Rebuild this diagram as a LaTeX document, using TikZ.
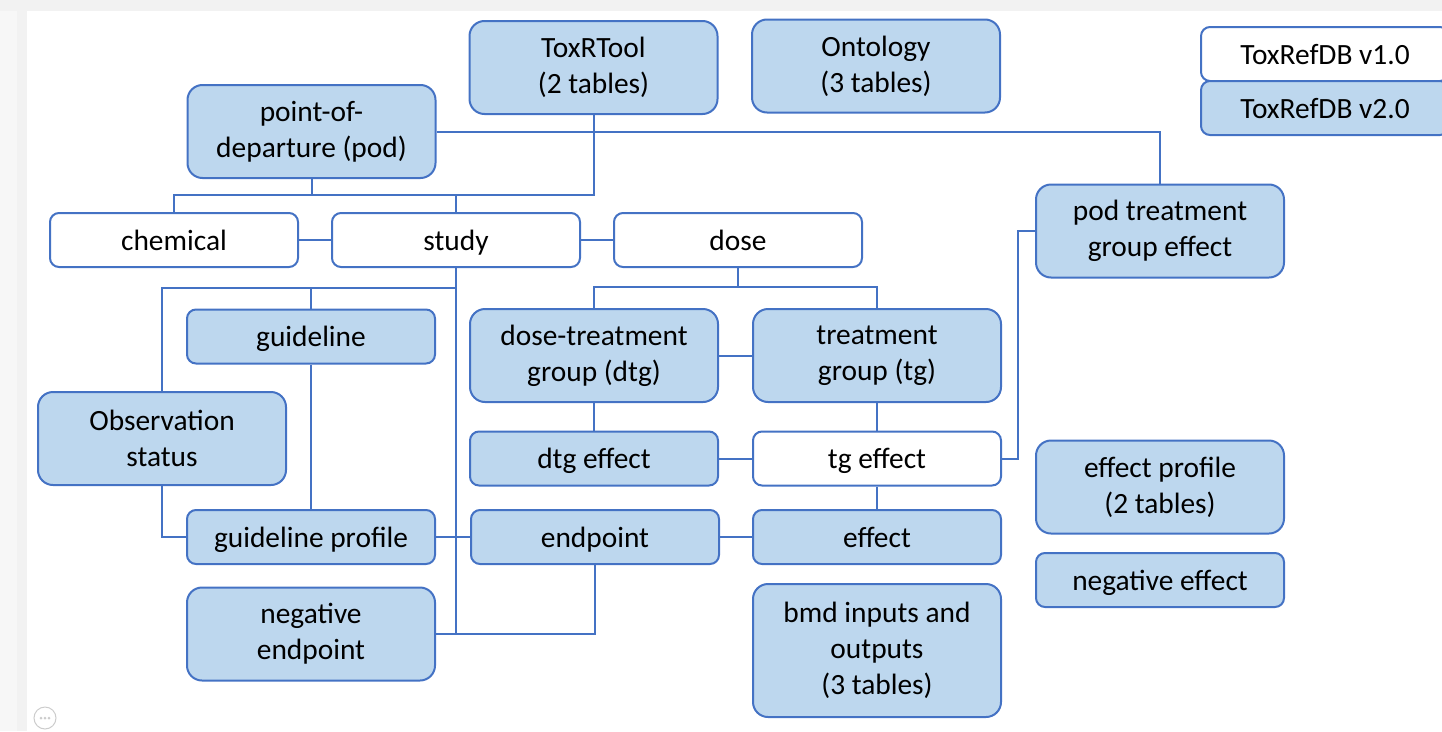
\documentclass[tikz,border=0pt]{standalone}
\usepackage{fontspec}
\setmainfont{Carlito}
\usepackage{tikz}
\usetikzlibrary{arrows, backgrounds}
\usepackage{xcolor}
\definecolor{boxBlue}{HTML}{BDD7EE}
\definecolor{lineBlue}{HTML}{4472C4}
\tikzset{>=latex}
\tikzset{
  tableNode/.style={shape=rectangle, draw=lineBlue, fill=boxBlue, line width=2pt, rounded corners=9pt, align=center, minimum width=248pt, minimum height=54pt, inner sep=0pt, text height=24pt, text depth=4pt, font=\fontsize{29.4}{36}\selectfont},
  tableNodeWHITE/.style={tableNode, fill=white},
  tallNode/.style={minimum height=93pt, rounded corners=15pt, text height={}, text depth={}},
  relLink/.style={draw=lineBlue, -, line width=2pt},
  frameBand/.style={draw=none, fill=black!5}
}
\begin{document}
\begin{tikzpicture}[x=1pt, y=-1pt]
        \useasboundingbox (0,0) rectangle (1442,731);
        % window frame of the screenshot
        \fill[black!3] (0,0) rectangle (27,731);
        \path[frameBand] (17,11) rectangle (27,731);
        \path[frameBand] (0,0) rectangle (1442,11);
        \draw[black!20, line width=1pt] (45,718) circle[radius=11pt];
        \foreach \dx in {-4,0,4} \fill[black!20] (45+\dx,718) circle[radius=1.5pt];

        \node (pod) [tableNode, tallNode] at (311.5,131.5) {point-of-\\departure (pod)};
        \node (toxr) [tableNode, tallNode] at (593.5,67.5) {ToxRTool\\(2 tables)};
        \node (onto) [tableNode, tallNode] at (876,66) {Ontology\\(3 tables)};
        \node (vOne) [tableNodeWHITE] at (1325,54) {ToxRefDB v1.0};
        \node (vTwo) [tableNode] at (1325,108) {ToxRefDB v2.0};
        \node (ptge) [tableNode, tallNode] at (1160,231) {pod treatment\\group effect};

        \node (chem) [tableNodeWHITE] at (174,240) {chemical};
        \node (study) [tableNodeWHITE] at (456,240) {study};
        \node (dose) [tableNodeWHITE] at (738,240) {dose};

        \node (guide) [tableNode] at (311,336.5) {guideline};
        \node (obs) [tableNode, tallNode] at (162,438.5) {Observation\\status};
        \node (gprof) [tableNode] at (311,537) {guideline profile};
        \node (negend) [tableNode, tallNode] at (311,634) {negative\\endpoint};

        \node (dtg) [tableNode, tallNode] at (594,355.5) {dose-treatment\\group (dtg)};
        \node (tg) [tableNode, tallNode] at (877,355.5) {treatment\\group (tg)};
        \node (dtgeff) [tableNode] at (594,458.5) {dtg effect};
        \node (tgeff) [tableNodeWHITE] at (877,458.5) {tg effect};
        \node (endp) [tableNode] at (595,537) {endpoint};
        \node (effect) [tableNode] at (877,537) {effect};
        \node (bmd) [tableNode, tallNode, minimum height=133pt] at (877,650.5) {bmd inputs and\\outputs\\(3 tables)};

        \node (effprof) [tableNode, tallNode] at (1160,487) {effect profile\\(2 tables)};
        \node (negeff) [tableNode] at (1160,580) {negative effect};

        \coordinate (podBus) at (0,195);
        \coordinate (studyBus) at (0,288);
        \coordinate (doseBus) at (0,287);
        \coordinate (tgBus) at (1018,0);

         \path
    (chem) edge [relLink] (study)
    (study) edge [relLink] (dose)
    (guide) edge [relLink] (gprof)
    (gprof) edge [relLink] (endp)
    (dtg) edge [relLink] (tg)
    (dtg) edge [relLink] (dtgeff)
    (tg) edge [relLink] (tgeff)
    (dtgeff) edge [relLink] (tgeff)
    (tgeff) edge [relLink] (effect)
    (endp) edge [relLink] (effect);

        \draw [relLink] (pod.south) -- (pod.south |- podBus) -| (chem.north);
        \draw [relLink] (pod.south |- podBus) -| (study.north);
        \draw [relLink] (toxr.south) |- (study.north |- podBus);
        \draw [relLink] (pod.east) -| (ptge.north);
        \draw [relLink] (study.south) -- (study.south |- studyBus) -| (obs.north);
        \draw [relLink] (study.south |- studyBus) -| (guide.north);
        \draw [relLink] (study.south) |- (negend.east);
        \draw [relLink] (endp.south) |- (negend.east);
        \draw [relLink] (obs.south) |- (gprof.west);
        \draw [relLink] (dose.south) -- (dose.south |- doseBus) -| (dtg.north);
        \draw [relLink] (dose.south |- doseBus) -| (tg.north);
        \draw [relLink] (tgeff.east) -- (tgeff.east -| tgBus) |- (ptge.west);
\end{tikzpicture}
\end{document}
